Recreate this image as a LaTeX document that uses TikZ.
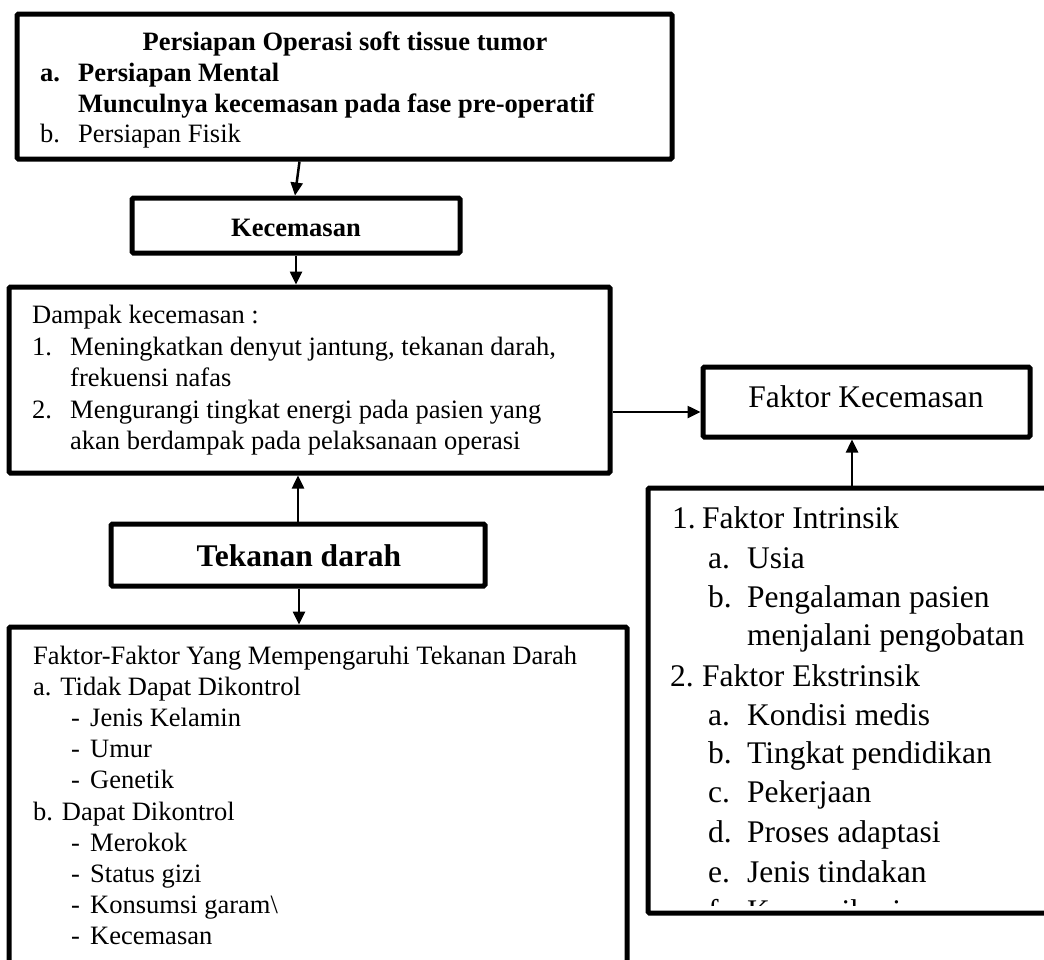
\documentclass[tikz,border=0pt]{standalone}
\usepackage{fontspec}
\setmainfont{Liberation Serif}
\usetikzlibrary{arrows.meta}
\begin{document}
\begin{tikzpicture}[x=1pt,y=-1pt,
  box/.style={draw, line width=5pt, rounded corners=1.5pt, inner sep=0pt, anchor=center},
  arr/.style={line width=2.5pt, -{Triangle[length=13pt,width=12pt]}},
  txt/.style={anchor=base west, inner sep=0pt, font=\fontsize{26.5pt}{31pt}\selectfont},
  btxt/.style={anchor=base west, inner sep=0pt, font=\fontsize{26.5pt}{31pt}\selectfont\bfseries},
  big/.style={anchor=base west, inner sep=0pt, font=\fontsize{31.5pt}{38pt}\selectfont},
  bbig/.style={anchor=base west, inner sep=0pt, font=\fontsize{31.5pt}{38pt}\selectfont\bfseries},
]
\clip (0,0) rectangle (1044,959);
\fill[white] (0,0) rectangle (1044,959);

% boxes
\node[box, minimum width=655pt, minimum height=145pt] (top) at (344.5,86.5) {};
\node[box, minimum width=328pt, minimum height=55pt] (kec) at (296,225.5) {};
\node[box, minimum width=601pt, minimum height=186pt] (damp) at (309.5,380) {};
\node[box, minimum width=327pt, minimum height=70pt] (fk) at (866.5,402) {};
\node[box, minimum width=374pt, minimum height=62pt] (tek) at (298,555) {};
\node[box, minimum width=618pt, minimum height=373pt] (bot) at (318,813.5) {};
\node[box, minimum width=452pt, minimum height=425pt] (rbox) at (874,700.5) {};

% top box text
\node[btxt, anchor=base] (t0) at (345,50) {Persiapan Operasi soft tissue tumor};
\node[btxt] (t1a) at (40,81) {a.};
\node[btxt] (t1) at (78,81) {Persiapan Mental};
\node[btxt] (t2) at (78,112) {Munculnya kecemasan pada fase pre-operatif};
\node[txt] (t3a) at (40,142) {b.};
\node[txt] (t3) at (78,142) {Persiapan Fisik};

% kecemasan
\node[btxt, anchor=base] (kect) at (296,236) {Kecemasan};

% dampak
\node[txt] (d0) at (32,323) {Dampak kecemasan :};
\node[txt] (d1a) at (32,355) {1.};
\node[txt] (d1) at (70,355) {Meningkatkan denyut jantung, tekanan darah,};
\node[txt] (d1b) at (70,386) {frekuensi nafas};
\node[txt] (d2a) at (32,418) {2.};
\node[txt] (d2) at (70,418) {Mengurangi tingkat energi pada pasien yang};
\node[txt] (d2b) at (70,449) {akan berdampak pada pelaksanaan operasi};

% faktor kecemasan
\node[big, anchor=base] (fkt) at (866,407) {Faktor Kecemasan};

% tekanan darah
\node[bbig, anchor=base] (tekt) at (299,566) {Tekanan darah};

% right list
\node[big] (r1a) at (672,528) {1.};
\node[big] (r1) at (702,528) {Faktor Intrinsik};
\node[big] (r2a) at (708,568) {a.};
\node[big] (r2) at (747,568) {Usia};
\node[big] (r3a) at (708,607) {b.};
\node[big] (r3) at (747,607) {Pengalaman pasien};
\node[big] (r4) at (747,645) {menjalani pengobatan};
\node[big] (r5a) at (670,686) {2.};
\node[big] (r5) at (702,686) {Faktor Ekstrinsik};
\node[big] (r6a) at (708,725) {a.};
\node[big] (r6) at (747,725) {Kondisi medis};
\node[big] (r7a) at (708,763) {b.};
\node[big] (r7) at (747,763) {Tingkat pendidikan};
\node[big] (r8a) at (708,802) {c.};
\node[big] (r8) at (747,802) {Pekerjaan};
\node[big] (r9a) at (708,842) {d.};
\node[big] (r9) at (747,842) {Proses adaptasi};
\node[big] (r10a) at (708,882) {e.};
\node[big] (r10) at (747,882) {Jenis tindakan};
\begin{scope}
\clip (650,490) rectangle (1044,905);
\node[big] (r11a) at (708,921) {f.};
\node[big] (r11) at (747,921) {Komunikasi};
\end{scope}

% bottom list
\node[txt] (b0) at (33,664) {Faktor-Faktor Yang Mempengaruhi Tekanan Darah};
\node[txt] (b1) at (33,695) {a. Tidak Dapat Dikontrol};
\node[txt] (b2a) at (71,726) {-};
\node[txt] (b2) at (90,726) {Jenis Kelamin};
\node[txt] (b3a) at (71,757) {-};
\node[txt] (b3) at (90,757) {Umur};
\node[txt] (b4a) at (71,788) {-};
\node[txt] (b4) at (90,788) {Genetik};
\node[txt] (b5) at (33,820) {b. Dapat Dikontrol};
\node[txt] (b6a) at (71,851) {-};
\node[txt] (b6) at (90,851) {Merokok};
\node[txt] (b7a) at (71,882) {-};
\node[txt] (b7) at (90,882) {Status gizi};
\node[txt] (b8a) at (71,913) {-};
\node[txt] (b8) at (90,913) {Konsumsi garam\textbackslash};
\node[txt] (b9a) at (71,944) {-};
\node[txt] (b9) at (90,944) {Kecemasan};

% connectors
\coordinate (topout) at ([xshift=-45pt]top.south);
\coordinate (kecin) at ([xshift=-1pt]kec.north);
\draw[arr] (topout) -- (kecin);
\draw[arr] (kec.south) -- (kec.south |- damp.north);
\draw[arr] (tek.north) -- (tek.north |- damp.south);
\draw[arr] ([xshift=1pt]tek.south) -- ([xshift=1pt]tek.south |- bot.north);
\coordinate (fkin) at ([yshift=-10pt]fk.west);
\draw[arr] (damp.east |- fkin) -- (fkin);
\coordinate (fkup) at ([xshift=-14.5pt]fk.south);
\draw[arr] (rbox.north -| fkup) -- (fkup);
\end{tikzpicture}
\end{document}
